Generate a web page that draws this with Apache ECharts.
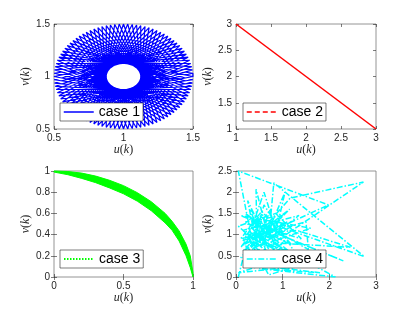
<!DOCTYPE html>
<html>
<head>
<meta charset="utf-8">
<script src="https://cdn.jsdelivr.net/npm/echarts@6/dist/echarts.min.js"></script>
<style>html,body{margin:0;padding:0;background:#fff}#c{width:415px;height:312px}</style>
</head>
<body>
<div id="c"></div>
<script>
// ---- tick labels per panel ----
const p1XTicks = [0.5, 1, 1.5];
const p1YTicks = [0.5, 1, 1.5];
const p2XTicks = [1, 1.5, 2, 2.5, 3];
const p2YTicks = [1, 1.5, 2, 2.5, 3];
const p3XTicks = [0, 0.5, 1];
const p3YTicks = [0, 0.2, 0.4, 0.6, 0.8, 1];
const p4XTicks = [0, 1, 2, 3];
const p4YTicks = [0, 0.5, 1, 1.5, 2, 2.5];

// ---- case 1 (orbit) ----
const case1U = [1.5, 0.562, 1.268, 0.969, 0.787, 1.405, 0.504, 1.465, 0.681, 1.094, 1.155, 0.636, 1.484, 0.516, 1.364, 0.845, 0.906, 1.319, 0.535, 1.496, 0.595, 1.213, 1.031, 0.732, 1.438, 0.5, 1.438, 0.732, 1.031, 1.213, 0.595, 1.496, 0.535, 1.319, 0.906, 0.845, 1.364, 0.516, 1.484, 0.636, 1.155, 1.094, 0.681, 1.465, 0.504, 1.405, 0.787, 0.969, 1.268, 0.562, 1.5,
  1.499, 0.548, 1.294, 0.937, 0.816, 1.385, 0.509, 1.476, 0.658, 1.124, 1.124, 0.658, 1.476, 0.509, 1.385, 0.816, 0.937, 1.294, 0.548, 1.499, 0.578, 1.241, 1.0, 0.759, 1.422, 0.501, 1.452, 0.706, 1.063, 1.184, 0.615, 1.491, 0.524, 1.342, 0.876, 0.876, 1.342, 0.524, 1.491, 0.615, 1.184, 1.063, 0.706, 1.452, 0.501, 1.422, 0.759, 1.0, 1.241, 0.578, 1.499];
const case1V = [1, 1.241, 0.578, 1.499, 0.548, 1.294, 0.937, 0.816, 1.385, 0.509, 1.476, 0.658, 1.124, 1.124, 0.658, 1.476, 0.509, 1.385, 0.816, 0.937, 1.294, 0.548, 1.499, 0.578, 1.241, 1, 0.759, 1.422, 0.501, 1.452, 0.706, 1.063, 1.184, 0.615, 1.491, 0.524, 1.342, 0.876, 0.876, 1.342, 0.524, 1.491, 0.615, 1.184, 1.063, 0.706, 1.452, 0.501, 1.422, 0.759, 1,
  1.031, 1.213, 0.595, 1.496, 0.535, 1.319, 0.906, 0.845, 1.364, 0.516, 1.484, 0.636, 1.155, 1.094, 0.681, 1.465, 0.504, 1.405, 0.787, 0.969, 1.268, 0.562, 1.5, 0.562, 1.268, 0.969, 0.787, 1.405, 0.504, 1.465, 0.681, 1.094, 1.155, 0.636, 1.484, 0.516, 1.364, 0.845, 0.906, 1.319, 0.535, 1.496, 0.595, 1.213, 1.031, 0.732, 1.438, 0.5, 1.438, 0.732, 1.031];

// ---- case 2 ----
const case2U = [1, 3];
const case2V = [3, 1];

// ---- case 3 (band: upper and lower edges) ----
const case3U     = [0, 0.1, 0.2, 0.3, 0.4, 0.5, 0.6, 0.7, 0.8, 0.85, 0.9, 0.95, 0.98, 1.0];
const case3Upper = [1.0, 0.995, 0.98, 0.952, 0.912, 0.862, 0.795, 0.71, 0.6, 0.525, 0.435, 0.31, 0.2, 0.04];
const case3Lower = [0.99, 0.965, 0.93, 0.89, 0.84, 0.785, 0.715, 0.625, 0.51, 0.44, 0.34, 0.2, 0.09, 0.0];

// ---- case 4 (chaotic orbit) ----
const case4U = [0.05, 0.3, 0.05, 1.98, 0.6, 0.25, 0.45, 0.43, 0.7, 0.81, 2.75, 0.9, 0.15, 1.16, 2.73, 0.4, 1.0, 0.2, 1.2, 0.55, 0.1, 1.5, 1.55, 0.35, 0.75, 1.05, 0.6, 0.2, 1.3, 2.45, 0.9, 0.3, 0.65, 0.05, 0.85, 1.4, 0.5, 2.3, 0.7, 0.15, 1.1, 0.4, 0.6, 1.25, 0.3, 0.95, 0.1, 1.6, 0.55, 0.8, 0.2, 1.15, 0.45, 2.13, 0.5, 1.8, 0.3, 0.9, 0.05, 1.3, 0.7, 0.25, 1.0, 0.4, 0.75, 1.35, 0.15, 0.6, 1.05, 0.35,
  0.85, 0.25, 1.1, 0.5, 0.15, 0.95, 0.35, 1.2, 0.65, 0.1, 0.75, 0.45, 1.05, 0.3, 0.6, 0.9, 0.2, 1.45, 0.55, 0.1];
const case4V = [0.0, 1.1, 2.5, 1.7, 1.0, 1.8, 0.7, 2.07, 0.9, 2.22, 0.48, 1.2, 0.6, 1.86, 2.24, 0.5, 1.45, 1.3, 0.75, 1.55, 0.9, 1.3, 0.65, 1.4, 0.55, 2.0, 0.85, 1.0, 1.1, 0.7, 0.8, 1.6, 0.6, 1.2, 1.5, 0.9, 1.2, 0.38, 1.1, 0.75, 1.3, 0.9, 1.7, 0.6, 0.8, 1.05, 1.45, 1.15, 0.75, 1.3, 0.55, 1.6, 1.0, 0.0, 0.2, 0.1, 0.3, 0.4, 0.1, 0.25, 0.05, 0.95, 0.65, 1.3, 0.95, 1.45, 1.1, 0.45, 0.85, 1.15,
  0.6, 1.25, 1.0, 1.45, 0.85, 1.35, 0.65, 1.2, 1.3, 0.7, 1.6, 0.85, 0.55, 1.05, 2.0, 0.95, 1.5, 0.3, 1.05, 0.45];

const zip = (a, b) => a.map((x, i) => [x, b[i]]);

const TXT = '#262626';
const BOX = '#7a7a7a';
const SANS = 'Liberation Sans, Arial, sans-serif';
const SERIF = 'Liberation Serif, DejaVu Serif, serif';

const grids = [
  {left: 54, top: 24, width: 139, height: 105},
  {left: 236, top: 24, width: 140, height: 105},
  {left: 54, top: 171, width: 139, height: 106},
  {left: 236, top: 171, width: 140, height: 106}
];
const xTicksAll = [p1XTicks, p2XTicks, p3XTicks, p4XTicks];
const yTicksAll = [p1YTicks, p2YTicks, p3YTicks, p4YTicks];

function rng(t) { return {min: t[0], max: t[t.length - 1], interval: t[1] - t[0]}; }
const nameStyle = {
  fontFamily: SERIF, fontSize: 12, color: TXT,
  rich: {i: {fontFamily: SERIF, fontStyle: 'italic', fontSize: 12, color: TXT}}
};
const tickStyle = {inside: true, length: 3, lineStyle: {color: TXT, width: 0.6}};

const xAxis = [], yAxis = [];
grids.forEach((g, gi) => {
  const xr = rng(xTicksAll[gi]), yr = rng(yTicksAll[gi]);
  xAxis.push(Object.assign({
    type: 'value', gridIndex: gi, position: 'bottom',
    axisLine: {show: false}, axisTick: tickStyle, splitLine: {show: false},
    axisLabel: {fontSize: 10, color: TXT, margin: 4, fontFamily: SANS},
    name: '{i|u}({i|k})', nameLocation: 'middle', nameGap: 12, nameTextStyle: nameStyle
  }, xr));
  xAxis.push(Object.assign({
    type: 'value', gridIndex: gi, position: 'top',
    axisLine: {show: false}, axisTick: tickStyle, splitLine: {show: false},
    axisLabel: {show: false}
  }, xr));
  yAxis.push(Object.assign({
    type: 'value', gridIndex: gi, position: 'left',
    axisLine: {show: false}, axisTick: tickStyle, splitLine: {show: false},
    axisLabel: {fontSize: 10, color: TXT, margin: 4, fontFamily: SANS},
    name: '{i|v}({i|k})', nameLocation: 'middle', nameGap: 19, nameTextStyle: nameStyle
  }, yr));
  yAxis.push(Object.assign({
    type: 'value', gridIndex: gi, position: 'right',
    axisLine: {show: false}, axisTick: tickStyle, splitLine: {show: false},
    axisLabel: {show: false}
  }, yr));
});

function legend(name, left, top, lineStyle) {
  return {
    data: [name], left: left, top: top, orient: 'vertical',
    backgroundColor: '#fff', borderColor: TXT, borderWidth: 0.6,
    padding: [2, 3, 2, 3], itemWidth: 30, itemHeight: 12, selectedMode: false,
    textStyle: {fontSize: 14, color: '#000', fontFamily: SANS},
    itemStyle: {opacity: 0},
    lineStyle: lineStyle
  };
}

const option = {
  animation: false,
  backgroundColor: '#fff',
  grid: grids.map(g => Object.assign({show: true, borderColor: BOX, borderWidth: 0.8, backgroundColor: 'transparent'}, g)),
  xAxis: xAxis,
  yAxis: yAxis,
  legend: [
    legend('case 1', 60, 103, {color: '#0000ff', type: 'solid', width: 1.5}),
    legend('case 2', 243, 103, {color: '#ff0000', type: [5, 3], width: 1.5}),
    legend('case 3', 60, 250, {color: '#00ff00', type: [1.5, 1.5], width: 2}),
    legend('case 4', 243, 250, {color: '#00ffff', type: [6, 2, 1.5, 2], width: 1.5})
  ],
  series: [
    {name: 'case 1', type: 'line', xAxisIndex: 0, yAxisIndex: 0, data: zip(case1U, case1V),
     symbol: 'none', lineStyle: {color: '#0000ff', width: 1.2}, itemStyle: {color: '#0000ff'}},
    {name: 'case 2', type: 'line', xAxisIndex: 2, yAxisIndex: 2, data: zip(case2U, case2V),
     symbol: 'none', lineStyle: {color: '#ff0000', width: 1.5}, itemStyle: {color: '#ff0000'}},
    {name: 'case 3 band', type: 'custom', xAxisIndex: 4, yAxisIndex: 4, data: [[0, 0]],
     renderItem: function (params, api) {
       const pts = [];
       for (let i = 0; i < case3U.length; i++) pts.push(api.coord([case3U[i], case3Upper[i]]));
       for (let i = case3U.length - 1; i >= 0; i--) pts.push(api.coord([case3U[i], case3Lower[i]]));
       return {type: 'polygon', shape: {points: pts}, style: {fill: '#00ff00', stroke: '#00ff00', lineWidth: 1}};
     }},
    {name: 'case 3', type: 'line', xAxisIndex: 4, yAxisIndex: 4, data: [],
     symbol: 'none', lineStyle: {color: '#00ff00', width: 2}, itemStyle: {color: '#00ff00'}},
    {name: 'case 4', type: 'line', xAxisIndex: 6, yAxisIndex: 6, data: zip(case4U, case4V),
     symbol: 'none', lineStyle: {color: '#00ffff', width: 1.5, type: [6, 2, 1.5, 2]}, itemStyle: {color: '#00ffff'}}
  ]
};
const chart = echarts.init(document.getElementById('c'), null, {renderer: 'canvas'});
chart.setOption(option);
</script>
</body>
</html>
